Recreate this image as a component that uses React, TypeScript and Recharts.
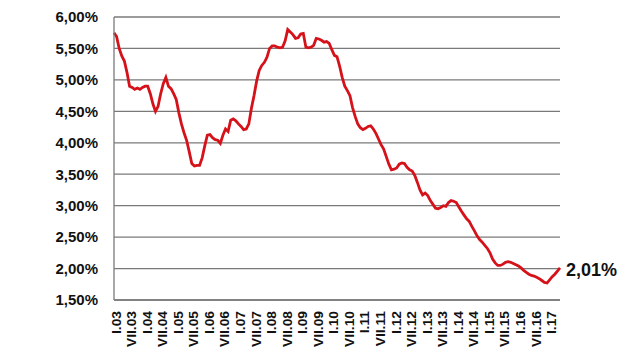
import { LineChart, Line, XAxis, YAxis, CartesianGrid, LabelList } from 'recharts';

// monthly rate, I.2003 .. V.2017 (%)
const rates = [
  5.75, 5.69, 5.5, 5.38, 5.3, 5.12, 4.9, 4.88, 4.85, 4.87, 4.85, 4.88,
  4.9, 4.9, 4.78, 4.62, 4.5, 4.58, 4.78, 4.94, 5.04, 4.9, 4.86, 4.78,
  4.69, 4.48, 4.3, 4.16, 4.04, 3.86, 3.67, 3.63, 3.64, 3.64, 3.76, 3.95,
  4.12, 4.13, 4.08, 4.05, 4.04, 3.99, 4.12, 4.22, 4.18, 4.36, 4.38, 4.35,
  4.3, 4.26, 4.21, 4.22, 4.3, 4.55, 4.75, 4.98, 5.15, 5.23, 5.28, 5.36,
  5.5, 5.54, 5.54, 5.52, 5.51, 5.52, 5.62, 5.8, 5.76, 5.72, 5.66, 5.67,
  5.73, 5.74, 5.52, 5.51, 5.52, 5.55, 5.66, 5.65, 5.63, 5.6, 5.61, 5.58,
  5.48, 5.39, 5.37, 5.22, 5.04, 4.9, 4.83, 4.75, 4.56, 4.42, 4.3, 4.24,
  4.21, 4.23, 4.26, 4.27, 4.22, 4.15, 4.06, 3.97, 3.9, 3.78, 3.66, 3.57,
  3.58, 3.6, 3.66, 3.68, 3.67, 3.61, 3.57, 3.55, 3.48, 3.37, 3.25, 3.17,
  3.2, 3.16, 3.08, 3.02, 2.96, 2.95, 2.97, 3.0, 2.99, 3.05, 3.08, 3.07,
  3.05, 2.98, 2.91, 2.85, 2.79, 2.75, 2.67, 2.6, 2.52, 2.46, 2.42, 2.37,
  2.32, 2.25, 2.15, 2.09, 2.05, 2.05, 2.07, 2.1, 2.11, 2.1, 2.08, 2.06,
  2.04, 2.01, 1.97, 1.94, 1.91, 1.89, 1.88, 1.86, 1.84, 1.81, 1.78, 1.77,
  1.82, 1.87, 1.91, 1.96, 2.01,
];

const startYear = 2003;
const romanMonths = ['I', 'II', 'III', 'IV', 'V', 'VI', 'VII', 'VIII', 'IX', 'X', 'XI', 'XII'];

const tickLabels = [
  'I.03', 'VII.03', 'I.04', 'VII.04', 'I.05', 'VII.05', 'I.06', 'VII.06',
  'I.07', 'VII.07', 'I.08', 'VII.08', 'I.09', 'VII.09', 'I.10', 'VII.10',
  'I.11', 'VII.11', 'I.12', 'VII.12', 'I.13', 'VII.13', 'I.14', 'VII.14',
  'I.15', 'VII.15', 'I.16', 'VII.16', 'I.17',
];

const yTicks = [1.5, 2, 2.5, 3, 3.5, 4, 4.5, 5, 5.5, 6];

const data = rates.map((v, i) => ({
  month: romanMonths[i % 12] + '.' + String((startYear + Math.floor(i / 12)) % 100).padStart(2, '0'),
  rate: v,
}));

const fmt = (v: number) => v.toFixed(2).replace('.', ',') + '%';
const font = 'Liberation Sans, Arial, sans-serif';

// labels read bottom-to-top, a bit stretched along their length like the original
const MonthTick = ({ x, y, payload }: any) => (
  <text
    x={0}
    y={0}
    transform={`translate(${x + 6.5},${y + 11}) rotate(-90) scale(1.15,1)`}
    textAnchor="end"
    style={{ fontSize: '12px', fontWeight: 700, fontFamily: font }}
    fill="#111"
  >
    {payload.value}
  </text>
);

export default function App() {
  const last = rates.length - 1;
  return (
    <div style={{ position: 'absolute', left: 0, top: 0, background: '#fff' }}>
      <LineChart
        width={640}
        height={360}
        data={data}
        margin={{ top: 17, right: 80, bottom: 0, left: 0 }}
      >
        <CartesianGrid vertical={false} stroke="#7a7a7a" strokeWidth={1.3} />
        <XAxis
          dataKey="month"
          ticks={tickLabels}
          interval={0}
          height={60}
          tickLine={false}
          tickSize={0}
          tickMargin={0}
          axisLine={{ stroke: '#7a7a7a', strokeWidth: 1.3 }}
          tick={MonthTick}
        />
        <YAxis
          domain={[1.5, 6]}
          ticks={yTicks}
          width={114}
          tickLine={false}
          tickSize={0}
          tickMargin={16}
          axisLine={{ stroke: '#7a7a7a', strokeWidth: 1.3 }}
          tickFormatter={fmt}
          tick={{ fontSize: 15, fontWeight: 'bold', fill: '#111', fontFamily: font }}
        />
        <Line
          type="linear"
          dataKey="rate"
          stroke="#d5121a"
          strokeWidth={2.8}
          dot={false}
          isAnimationActive={false}
        >
          <LabelList
            dataKey="rate"
            content={(p: any) =>
              p.index === last ? (
                <text
                  x={p.x + 6}
                  y={p.y + 2}
                  dominantBaseline="central"
                  fontSize={18}
                  fontWeight="bold"
                  fontFamily={font}
                  fill="#111"
                >
                  {fmt(rates[last])}
                </text>
              ) : null
            }
          />
        </Line>
      </LineChart>
    </div>
  );
}
